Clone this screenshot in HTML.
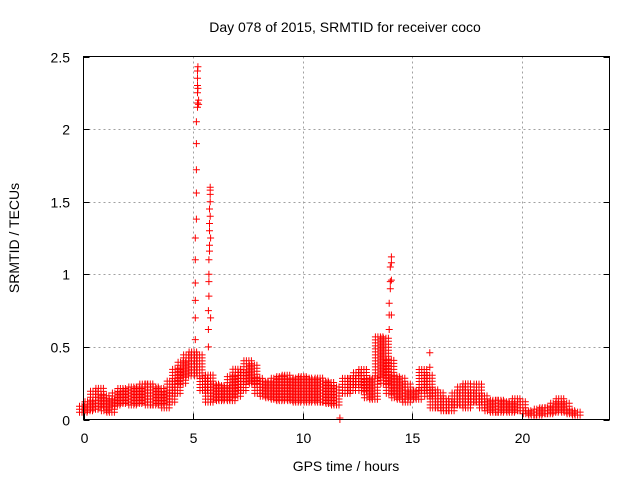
<!DOCTYPE html>
<html><head><meta charset="utf-8"><style>
body{margin:0;background:#fff;}
svg{display:block;font-family:"Liberation Sans",sans-serif;}
</style></head><body>
<svg id="c" width="640" height="480" viewBox="0 0 640 480">
<text x="345" y="32" font-size="14" text-anchor="middle" fill="#000">Day 078 of 2015, SRMTID for receiver coco</text>
<text x="346" y="471" font-size="14" text-anchor="middle">GPS time / hours</text>
<text transform="translate(19,238) rotate(-90)" font-size="14" text-anchor="middle">SRMTID / TECUs</text>
<g id="grid"></g>
<g id="marks"></g>
<rect x="83.5" y="56.5" width="526" height="363" fill="none" stroke="#000" stroke-width="1"/>
<g id="axes"></g>
</svg>
<script>
const xTicks=[0,5,10,15,20];
const yTicks=[0,0.5,1,1.5,2,2.5];
const yTickLabels=["0","0.5","1","1.5","2","2.5"];
// band knots every 0.25 h
const bandTimes=[0,0.25,0.5,0.75,1,1.25,1.5,1.75,2,2.25,2.5,2.75,3,3.25,3.5,3.75,4,4.25,4.5,4.75,5,5.25,5.5,5.75,6,6.25,6.5,6.75,7,7.25,7.5,7.75,8,8.25,8.5,8.75,9,9.25,9.5,9.75,10,10.25,10.5,10.75,11,11.25,11.5,12,12.25,12.5,12.75,13,13.25,13.5,13.75,14,14.25,14.5,14.75,15,15.25,15.5,15.75,16,16.25,16.5,16.75,17,17.25,17.5,17.75,18,18.25,18.5,18.75,19,19.25,19.5,19.75,20,20.25,20.5,20.75,21,21.25,21.5,21.75,22,22.25,22.5];
const bandLow=[0.05,0.06,0.07,0.09,0.06,0.05,0.1,0.11,0.12,0.1,0.11,0.12,0.1,0.1,0.11,0.08,0.12,0.18,0.25,0.3,0.32,0.3,0.2,0.12,0.14,0.13,0.14,0.13,0.16,0.2,0.26,0.25,0.18,0.16,0.15,0.14,0.13,0.14,0.13,0.12,0.13,0.12,0.13,0.12,0.12,0.11,0.1,0.18,0.2,0.24,0.2,0.15,0.14,0.3,0.25,0.18,0.15,0.14,0.12,0.15,0.14,0.2,0.16,0.08,0.08,0.06,0.06,0.1,0.1,0.08,0.12,0.12,0.08,0.06,0.05,0.05,0.06,0.05,0.06,0.06,0.04,0.03,0.03,0.04,0.04,0.05,0.06,0.05,0.04,0.03];
const bandHigh=[0.11,0.13,0.2,0.23,0.18,0.15,0.2,0.22,0.22,0.24,0.22,0.26,0.25,0.24,0.22,0.2,0.28,0.35,0.4,0.45,0.48,0.46,0.3,0.32,0.26,0.25,0.24,0.3,0.35,0.34,0.42,0.38,0.3,0.28,0.26,0.3,0.3,0.32,0.28,0.3,0.3,0.3,0.28,0.3,0.28,0.26,0.24,0.3,0.3,0.34,0.36,0.28,0.3,0.58,0.56,0.42,0.3,0.3,0.26,0.2,0.22,0.35,0.32,0.22,0.2,0.15,0.14,0.2,0.24,0.25,0.2,0.26,0.18,0.14,0.15,0.14,0.14,0.12,0.15,0.14,0.08,0.07,0.08,0.1,0.1,0.12,0.15,0.13,0.08,0.07];
const spikeTimes=[5.1,5.1,5.1,5.1,5.1,5.1,5.15,5.15,5.15,5.15,5.15,5.2,5.2,5.2,5.2,5.2,5.2,5.22,5.22,5.25,5.25,5.7,5.7,5.7,5.72,5.72,5.72,5.72,5.75,5.75,5.75,5.75,5.75,5.78,5.78,5.78,5.78,5.78,5.8,5.8,13.95,13.95,13.95,14.0,14.0,14.0,14.05,14.05,14.05,14.05,15.8,15.8,11.7,11.7];
const spikeValues=[0.55,0.7,0.82,0.94,1.1,1.25,1.38,1.56,1.72,1.9,2.05,2.15,2.18,2.25,2.3,2.35,2.4,2.43,2.28,2.2,2.17,0.5,0.62,0.75,0.85,0.95,1.0,1.1,1.16,1.2,1.3,1.35,1.45,1.5,1.55,1.58,1.6,1.4,1.25,0.7,0.62,0.72,0.8,0.9,0.95,1.05,1.08,1.12,0.96,0.72,0.36,0.46,0.0,0.01];

const NS="http://www.w3.org/2000/svg";
const X0=83.5,X1=609.5,Y0=419.5,Y1=56.5;
function xs(t){return X0+(X1-X0)*t/24;}
function ys(v){return Y0-(Y0-Y1)*v/2.5;}
const grid=document.getElementById('grid'),axes=document.getElementById('axes'),marks=document.getElementById('marks');
function ln(p,x1,y1,x2,y2,st,dash){const l=document.createElementNS(NS,'line');l.setAttribute('x1',x1);l.setAttribute('y1',y1);l.setAttribute('x2',x2);l.setAttribute('y2',y2);l.setAttribute('stroke',st);if(dash)l.setAttribute('stroke-dasharray',dash);p.appendChild(l);return l;}
xTicks.forEach((t,i)=>{
  const x=Math.round(xs(t))+0.5;
  if(i>0){const g=ln(grid,x,Y1,x,Y0,'#a0a0a0','2,3');
  
  }
  const tk=ln(axes,x,Y0,x,Y0-6,'#000');
  
  
  const tx=document.createElementNS(NS,'text');tx.setAttribute('x',x);tx.setAttribute('y',443);tx.setAttribute('font-size','14');tx.setAttribute('text-anchor','middle');tx.textContent=t;
  
  
  axes.appendChild(tx);
});
yTicks.forEach((v,i)=>{
  const y=Math.round(ys(v))+0.5;
  if(i>0&&i<yTicks.length-1){const g=ln(grid,X0,y,X1,y,'#a0a0a0','2,3');
  
  }
  const tk=ln(axes,X0,y,X0+6,y,'#000');
  
  
  ln(axes,X1,y,X1-6,y,'#000');
  const tx=document.createElementNS(NS,'text');tx.setAttribute('x',70);tx.setAttribute('y',y+5);tx.setAttribute('font-size','14');tx.setAttribute('text-anchor','end');tx.textContent=yTickLabels[i];
  
  
  axes.appendChild(tx);
});
let d='';
function plus(x,y){d+='M'+(x-3.5).toFixed(1)+' '+y.toFixed(1)+'h7M'+x.toFixed(1)+' '+(y-3.5).toFixed(1)+'v7';}
for(let i=0;i<bandTimes.length;i++){
  const xc=xs(bandTimes[i]);
  const yl=ys(bandLow[i]),yh=ys(bandHigh[i]);
  [-4,-1.5,1,3.5].forEach(dx=>{for(let y=yl;y>=yh;y-=3)plus(xc+dx,y);});
}
for(let i=0;i<spikeTimes.length;i++)plus(xs(spikeTimes[i]),ys(spikeValues[i]));
const p=document.createElementNS(NS,'path');p.setAttribute('d',d);p.setAttribute('stroke','#ff0000');p.setAttribute('stroke-width','1');p.setAttribute('fill','none');


marks.appendChild(p);
</script>
</body></html>
